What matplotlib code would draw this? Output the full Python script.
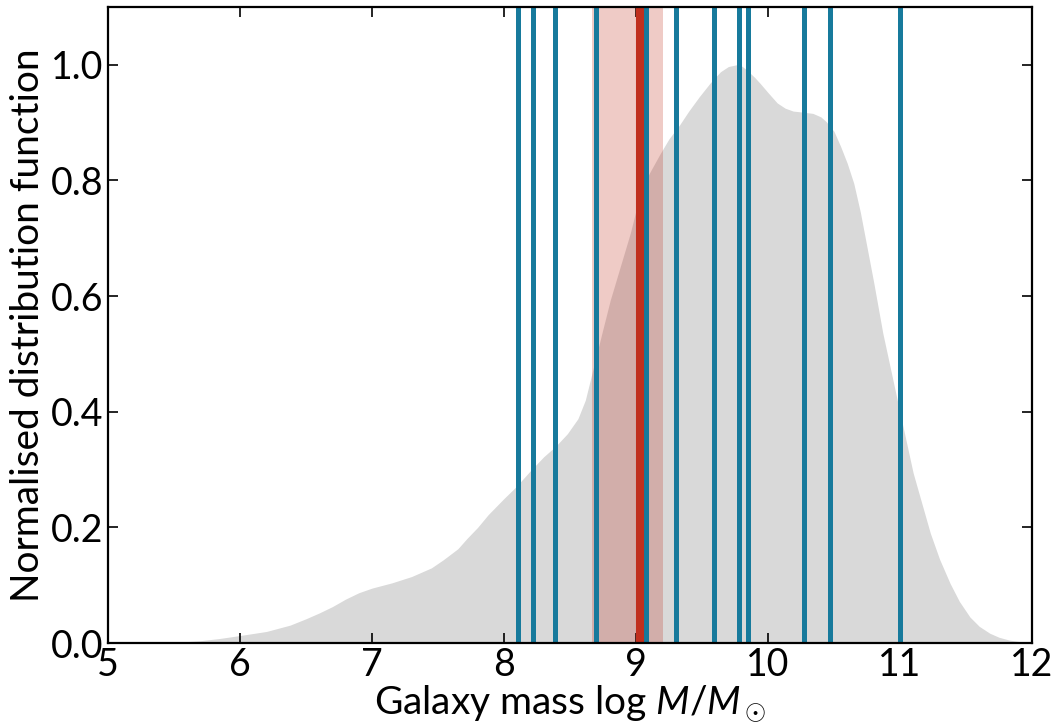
import numpy as np
import matplotlib
matplotlib.use("Agg")
import matplotlib.pyplot as plt

plt.rcParams['font.family'] = ['Lato', 'DejaVu Sans']
plt.rcParams['mathtext.fontset'] = 'custom'
plt.rcParams['mathtext.it'] = 'Lato:italic'
plt.rcParams['mathtext.rm'] = 'Lato'
plt.rcParams['mathtext.fallback'] = 'cm'

# KDE of galaxy mass distribution
kde_x = [5.0, 5.3, 5.5, 5.7, 5.85, 6.0, 6.2, 6.38, 6.5, 6.6, 6.7, 6.8, 6.9, 7.0,
         7.15, 7.3, 7.45, 7.54, 7.65, 7.72, 7.8, 7.88, 7.94, 8.0, 8.09, 8.2, 8.3,
         8.39, 8.48, 8.56, 8.616, 8.679, 8.742, 8.805, 8.881, 8.957, 9.02, 9.1,
         9.18, 9.25, 9.33, 9.4, 9.48, 9.56, 9.64, 9.7, 9.76, 9.8, 9.84, 9.9, 9.94,
         10.0, 10.07, 10.13, 10.19, 10.27, 10.34, 10.4, 10.44, 10.5, 10.55, 10.6,
         10.65, 10.7, 10.75, 10.8, 10.87, 10.99, 11.1, 11.23, 11.3, 11.38, 11.45,
         11.53, 11.6, 11.68, 11.75, 11.83, 11.92, 12.0]
kde_y = [0.0, 0.0, 0.001, 0.004, 0.008, 0.013, 0.02, 0.031, 0.042, 0.052, 0.063, 0.076, 0.087, 0.095,
         0.104, 0.115, 0.13, 0.144, 0.163, 0.181, 0.2, 0.222, 0.236, 0.25, 0.27, 0.298, 0.322,
         0.34, 0.362, 0.388, 0.42, 0.478, 0.536, 0.593, 0.651, 0.709, 0.766, 0.812,
         0.845, 0.872, 0.896, 0.92, 0.945, 0.968, 0.988, 0.997, 1.0, 0.998, 0.991, 0.978, 0.968,
         0.952, 0.934, 0.925, 0.92, 0.918, 0.916, 0.91, 0.902, 0.885, 0.859, 0.83,
         0.795, 0.745, 0.685, 0.625, 0.536, 0.409, 0.294, 0.19, 0.145, 0.103, 0.072,
         0.045, 0.029, 0.017, 0.01, 0.005, 0.002, 0.0]

# Host galaxy masses (blue lines)
host_masses = [8.108, 8.22, 8.386, 8.70, 9.078, 9.30, 9.588, 9.782, 9.846, 10.275, 10.47, 11.0]

# Target galaxy mass and uncertainty band
target_mass = 9.033
target_low = 8.667
target_high = 9.205

fig = plt.figure(figsize=(10.57, 7.27), dpi=100)
ax = fig.add_axes([0.1022, 0.1155, 0.8741, 0.8749])

ax.fill_between(kde_x, 0, kde_y, color='#d9d9d9', lw=0, zorder=1)
ax.axvspan(target_low, target_high, color='#c0301e', alpha=0.25, lw=0, zorder=2)
for m in host_masses:
    ax.axvline(m, color='#177a9c', lw=3.6, zorder=3)
ax.axvline(target_mass, color='#c0301e', lw=5.8, zorder=4)

ax.set_xlim(5, 12)
ax.set_ylim(0, 1.1)
ax.set_xticks([5, 6, 7, 8, 9, 10, 11, 12])
ax.set_yticks([0.0, 0.2, 0.4, 0.6, 0.8, 1.0])
ax.set_yticklabels(['0.0', '0.2', '0.4', '0.6', '0.8', '1.0'])
ax.tick_params(direction='in', top=True, right=True, length=7, width=1.2,
               labelsize=27, pad=3)
for s in ax.spines.values():
    s.set_linewidth(1.6)
    s.set_zorder(10)

ax.set_xlabel(r'Galaxy mass log $M/M_\odot$', fontsize=28, labelpad=0)
ax.set_ylabel('Normalised distribution function', fontsize=28, labelpad=4)

fig.savefig('out.png', dpi=100)
